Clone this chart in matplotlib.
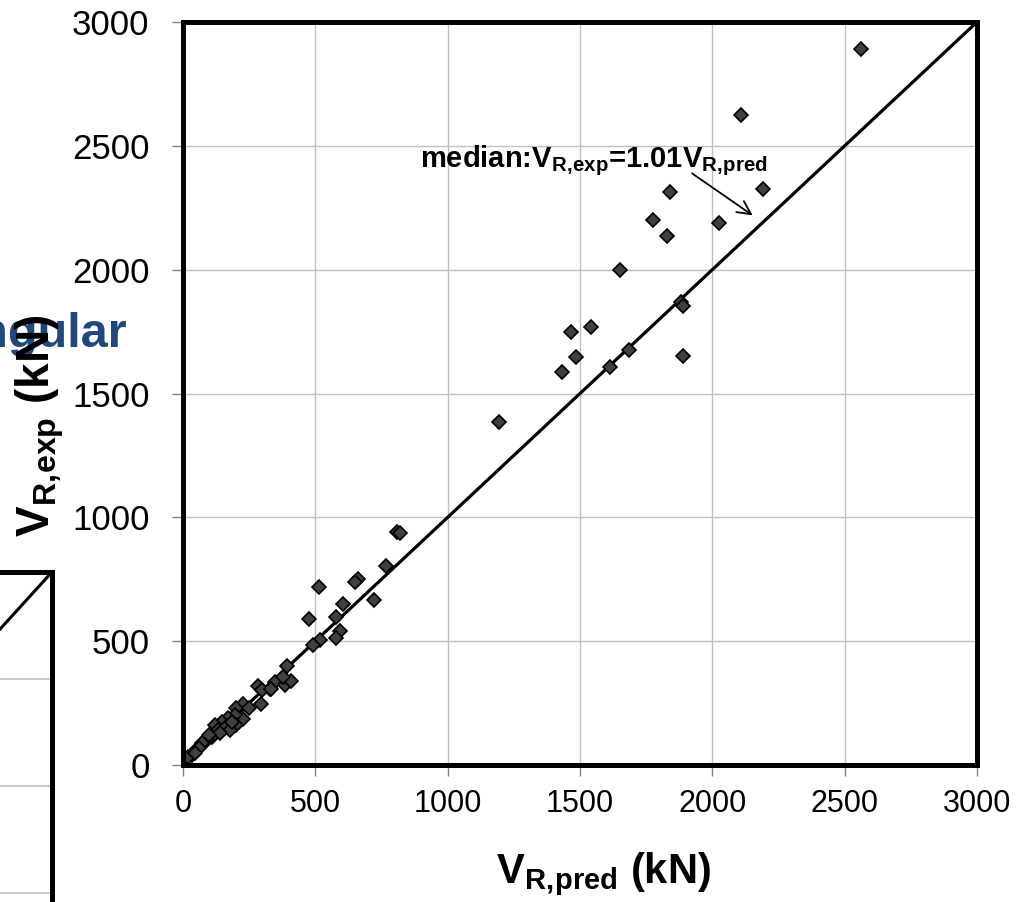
import matplotlib
matplotlib.use('Agg')
import matplotlib.pyplot as plt

# --- data ---
v_pred = [2560, 2110, 1840, 2190, 1775, 1828, 2025, 1650, 1465, 1540,
          1483, 1433, 1613, 1686, 1880, 1890, 1890, 1195, 810, 820,
          767, 662, 650, 515, 603, 722, 578, 475, 593, 578,
          518, 492, 392, 348, 329, 385, 407, 376, 285, 300,
          332, 295, 228, 200, 228, 196, 199, 171, 146, 121,
          131, 159, 108, 90, 71, 52, 33, 20, 178, 186,
          140, 100, 60, 45, 250]
v_exp = [2890, 2625, 2315, 2325, 2200, 2135, 2190, 2000, 1750, 1770,
         1646, 1587, 1608, 1676, 1870, 1855, 1652, 1386, 940, 935,
         805, 750, 740, 720, 650, 668, 598, 588, 540, 512,
         505, 483, 398, 336, 306, 323, 340, 357, 320, 303,
         305, 248, 245, 229, 186, 202, 162, 189, 175, 162,
         141, 150, 114, 101, 88, 63, 40, 34, 140, 174,
         130, 120, 70, 50, 230]
ticks = [0, 500, 1000, 1500, 2000, 2500, 3000]
tick_labels = ['0', '500', '1000', '1500', '2000', '2500', '3000']
ref_line = [0, 3000]
median_label = r'median:V$_\mathbf{R,\!exp}$=1.01V$_\mathbf{R,\!pred}$'

plt.rcParams['font.family'] = 'Liberation Sans'
plt.rcParams['mathtext.fontset'] = 'custom'
plt.rcParams['mathtext.rm'] = 'Liberation Sans'
plt.rcParams['mathtext.bf'] = 'Liberation Sans:bold'

W, H = 1032, 902
fig = plt.figure(figsize=(W / 100, H / 100), dpi=100)

# --- partial neighbour panel on the left (cut by the screenshot) ---
ax2 = fig.add_axes([52 / W - 0.566, 1 - 572 / H - 0.712, 0.566, 0.712])
ax2.set_xlim(0, 3000)
ax2.set_ylim(0, 3000)
ax2.set_xticks(ticks)
ax2.set_yticks(ticks)
ax2.grid(True, color='#BFBFBF', lw=1.2)
ax2.tick_params(labelleft=False, labelbottom=False, length=0)
ax2.plot(ref_line, ref_line, color='black', lw=2.2)
for s in ax2.spines.values():
    s.set_linewidth(3.6)

fig.text(127 / W, 1 - 347 / H, 'Rectangular', ha='right', va='baseline',
         fontsize=35, fontweight='bold', color='#1F497D')

# --- main panel ---
ax = fig.add_axes([183 / W, 1 - 765 / H, 794 / W, 743 / H])
ax.set_xlim(0, 3000)
ax.set_ylim(0, 3000)
ax.set_xticks(ticks)
ax.set_xticklabels(tick_labels)
ax.set_yticks(ticks)
ax.set_yticklabels(tick_labels)
ax.grid(True, color='#BFBFBF', lw=1.0)
ax.set_axisbelow(True)

ax.plot(ref_line, ref_line, color='black', lw=2.3, zorder=2)
ax.plot(v_pred, v_exp, 'D', ms=7, mfc='#404040', mec='black', mew=1.2,
        zorder=2.2)

for s in ax.spines.values():
    s.set_linewidth(3.6)
    s.set_zorder(3)

ax.tick_params(axis='both', direction='out', length=8, width=1,
               color='#808080')
ax.tick_params(axis='y', pad=16, labelsize=25)
ax.tick_params(axis='x', pad=9, labelsize=22)

ax.text(895, 2415, median_label, fontsize=21, fontweight='bold',
        va='baseline', ha='left')
ax.annotate('', xy=(2161, 2213), xytext=(1915, 2395),
            arrowprops=dict(arrowstyle='->', lw=1.3, color='black',
                            mutation_scale=24))

fig.text(603 / W, 1 - 883 / H, r'V$_\mathbf{R,\!pred}$ (kN)', ha='center',
         va='baseline', fontsize=30, fontweight='bold')
fig.text(40 / W, 1 - 426 / H, r'V$_\mathbf{R,\!exp}$ (kN)', ha='center',
         va='center', rotation=90, fontsize=33, fontweight='bold')

fig.savefig('out.png', dpi=100)
